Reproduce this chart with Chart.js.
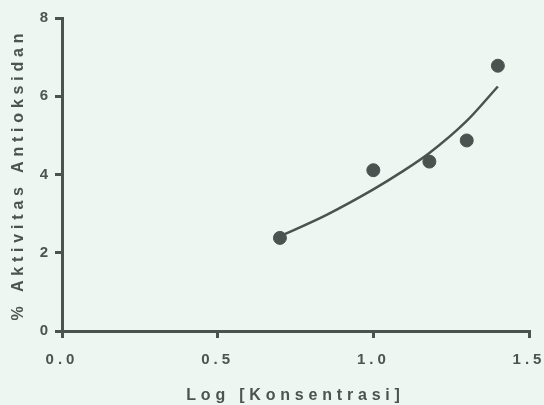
<!DOCTYPE html>
<html>
<head>
<meta charset="utf-8">
<script src="https://cdn.jsdelivr.net/npm/chart.js@4"></script>
<style>
  html, body { margin: 0; padding: 0; background: #edf6f1; }
  canvas { display: block; }
</style>
</head>
<body>
<canvas id="grafica" width="544" height="405"></canvas>
<script>
// data
const logKonsentrasi = [0.70, 1.00, 1.18, 1.30, 1.40];
const aktivitas = [2.38, 4.11, 4.33, 4.87, 6.78];

// fitted curve
const kurvaX = [0.70, 0.85, 1.00, 1.09, 1.18, 1.30, 1.40];
const kurvaY = [2.42, 2.97, 3.62, 4.06, 4.55, 5.37, 6.25];

const xTicks = [0.0, 0.5, 1.0, 1.5];
const yTicks = [0, 2, 4, 6, 8];

const warna = '#4b5350';
const warnaTeks = '#4d5350';

// wide letter spacing like the original, a bit wider on the axis titles
const spasiHuruf = {
    id: 'spasiHuruf',
    beforeInit(chart) {
        const c = chart.ctx;
        const asli = c.fillText;
        c.fillText = function (t, x, y, w) {
            this.letterSpacing = this.font.indexOf('16px') >= 0 ? '4.8px' : '4px';
            return w === undefined ? asli.call(this, t, x, y) : asli.call(this, t, x, y, w);
        };
    },
    beforeDraw(chart) {
        chart.ctx.letterSpacing = '4px';
    }
};

const ctx = document.getElementById('grafica').getContext('2d');

const fontTick = { family: 'Liberation Sans', size: 15, weight: 'bold' };
const fontJudul = { family: 'Liberation Sans', size: 16, weight: 'bold' };

new Chart(ctx, {
    type: 'scatter',
    data: {
        datasets: [
            {
                type: 'line',
                data: kurvaX.map((x, i) => ({ x: x, y: kurvaY[i] })),
                borderColor: warna,
                borderWidth: 2.5,
                pointRadius: 0,
                fill: false,
                cubicInterpolationMode: 'monotone'
            },
            {
                data: logKonsentrasi.map((x, i) => ({ x: x, y: aktivitas[i] })),
                backgroundColor: warna,
                borderColor: warna,
                pointRadius: 6.5,
                pointHoverRadius: 6.5
            }
        ]
    },
    plugins: [spasiHuruf],
    options: {
        responsive: false,
        animation: false,
        layout: { padding: { left: 0, right: 15, top: 18, bottom: 0 } },
        plugins: {
            legend: { display: false },
            tooltip: { enabled: false }
        },
        scales: {
            x: {
                type: 'linear',
                min: 0,
                max: 1.5,
                afterBuildTicks: (scale) => { scale.ticks = xTicks.map(v => ({ value: v })); },
                afterFit: (scale) => {
                    scale.height = 74;
                    scale.paddingLeft = 0;
                    scale.paddingRight = 0;
                },
                ticks: {
                    color: warnaTeks,
                    font: fontTick,
                    padding: 13,
                    maxRotation: 0,
                    callback: (v) => Number(v).toFixed(1)
                },
                grid: {
                    drawOnChartArea: false,
                    drawTicks: true,
                    tickLength: 7,
                    color: warna,
                    lineWidth: 3
                },
                border: { color: warna, width: 3 },
                title: {
                    display: true,
                    text: 'Log [Konsentrasi]',
                    color: warnaTeks,
                    font: fontJudul,
                    padding: { top: 0, bottom: 0 }
                }
            },
            y: {
                type: 'linear',
                min: 0,
                max: 8,
                afterBuildTicks: (scale) => { scale.ticks = yTicks.map(v => ({ value: v })); },
                afterFit: (scale) => { scale.width = 62; },
                ticks: {
                    color: warnaTeks,
                    font: fontTick,
                    padding: 3
                },
                grid: {
                    drawOnChartArea: false,
                    drawTicks: true,
                    tickLength: 7,
                    color: warna,
                    lineWidth: 3
                },
                border: { color: warna, width: 3 },
                title: {
                    display: true,
                    text: '% Aktivitas Antioksidan',
                    color: warnaTeks,
                    font: fontJudul,
                    padding: { top: 9, bottom: 0 }
                }
            }
        }
    }
});
</script>
</body>
</html>
